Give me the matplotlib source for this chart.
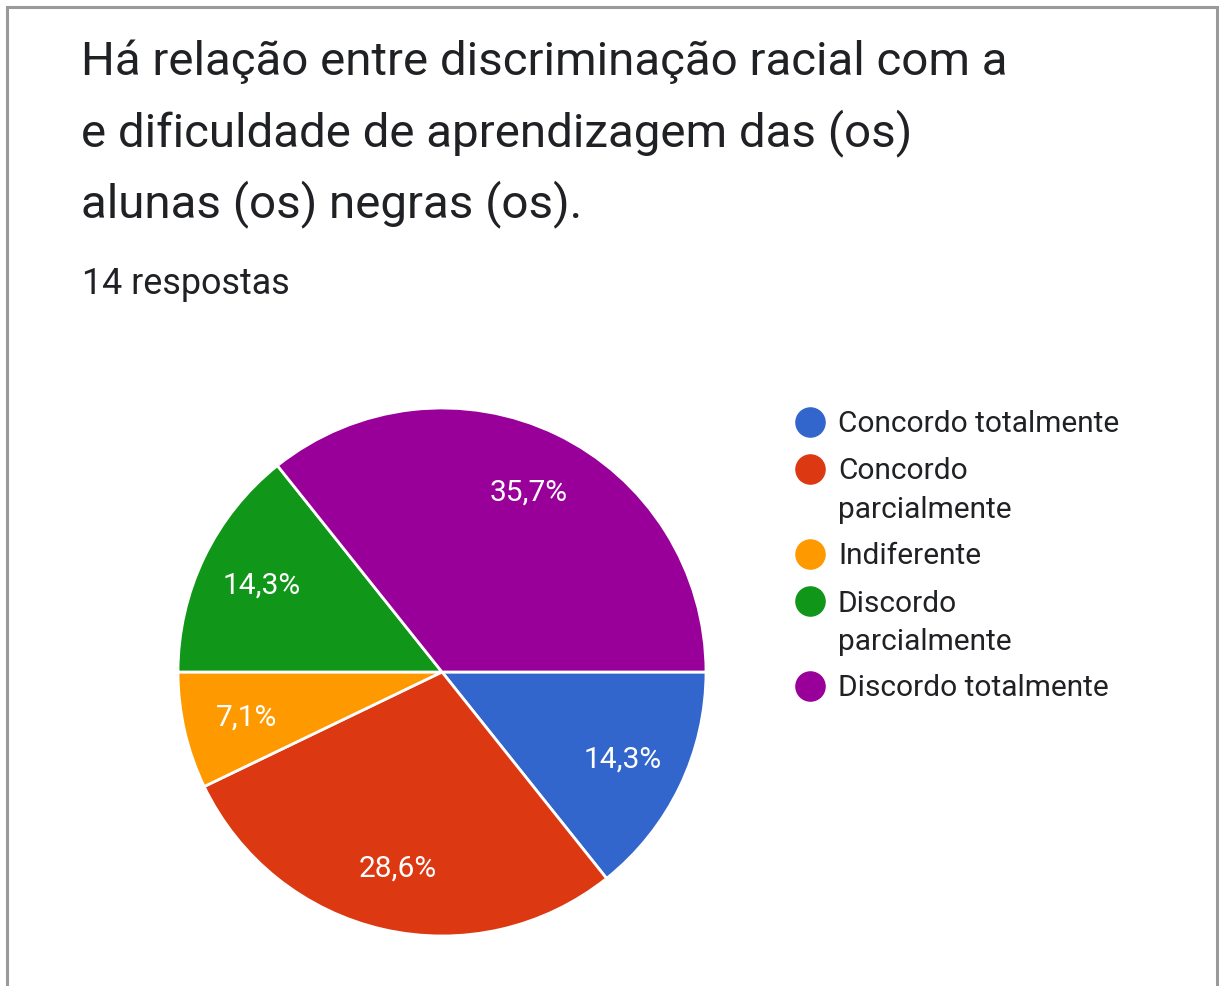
import matplotlib
matplotlib.use("Agg")
import matplotlib.pyplot as plt
from matplotlib.patches import Rectangle
from matplotlib.lines import Line2D

plt.rcParams['font.family'] = ['Roboto', 'DejaVu Sans']

# Survey answers
categories = ["Concordo totalmente", "Concordo\nparcialmente", "Indiferente",
              "Discordo\nparcialmente", "Discordo totalmente"]
counts = [2, 4, 1, 2, 5]
colors = ["#3366cc", "#dc3912", "#ff9900", "#109618", "#990099"]
title_lines = ["Há relação entre discriminação racial com a",
               "e dificuldade de aprendizagem das (os)",
               "alunas (os) negras (os)."]
subtitle = "14 respostas"

W, H = 1219, 987
fig = plt.figure(figsize=(W / 100, H / 100), dpi=100)
fig.patch.set_facecolor("white")

def fx(px):
    return px / W

def fy(py):
    return 1 - py / H

# card border
fig.patches.append(Rectangle((fx(7), fy(1000)), fx(1217) - fx(7), fy(8) - fy(1000),
                             transform=fig.transFigure, fill=False,
                             edgecolor="#9a9a9a", linewidth=2.2))

# title and response count
for i, line in enumerate(title_lines):
    fig.text(fx(81), fy(75 + 71 * i), line, fontsize=34.2, color="#202124",
             va="baseline", ha="left")
fig.text(fx(82), fy(294), subtitle, fontsize=25.8, color="#202124",
         va="baseline", ha="left")

# pie
cx, cy, r = 442, 673, 264
ax = fig.add_axes([fx(cx - r), fy(cy + r), 2 * r / W, 2 * r / H])
wedges, texts, autotexts = ax.pie(
    counts, colors=colors, startangle=0, counterclock=False,
    autopct=lambda p: f"{p:.1f}%".replace(".", ","), pctdistance=0.76,
    wedgeprops=dict(edgecolor="white", linewidth=2),
    textprops=dict(color="white", fontsize=21.5))
for w in wedges:
    w.set_clip_on(False)
ax.set_xlim(-1, 1)
ax.set_ylim(-1, 1)
ax.set_aspect("auto")
ax.axis("off")

# legend
y = 423
for cat, col in zip(categories, colors):
    fig.add_artist(Line2D([fx(810)], [fy(y)], marker="o", markersize=21,
                          color=col, linestyle="none",
                          transform=fig.transFigure))
    lines = cat.split("\n")
    for k, part in enumerate(lines):
        fig.text(fx(838), fy(y + 9.5 + 38 * k), part, fontsize=21.5,
                 color="#202124", va="baseline", ha="left")
    y += 38 * (len(lines) - 1) + 47

fig.savefig("out.png", dpi=100, facecolor="white")
